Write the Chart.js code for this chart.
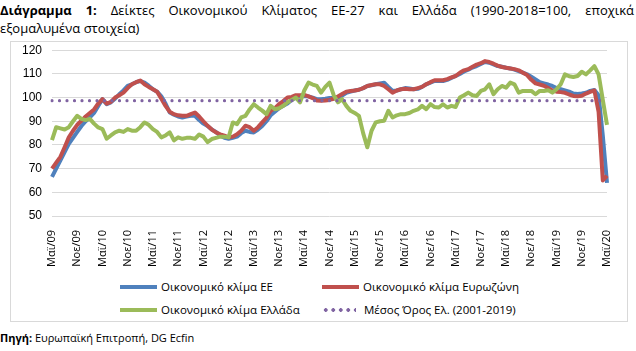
<!DOCTYPE html>
<html>
<head>
<meta charset="utf-8">
<script src="https://cdn.jsdelivr.net/npm/chart.js@4.4.1/dist/chart.umd.min.js"></script>
<style>
  body { margin: 0; width: 636px; height: 351px; background: #fff; position: relative; overflow: hidden; font-family: "Open Sans", "Noto Sans", sans-serif; color: #000; }
  #title { position: absolute; left: 0; top: 1px; width: 634px; font-size: 13px; line-height: 18px; }
  #title .l1 { text-align: justify; text-align-last: justify; white-space: nowrap; }
  #box { position: absolute; left: 10px; top: 41px; width: 618px; height: 281px; border: 1px solid #d9d9d9; box-sizing: border-box; }
  #chart { position: absolute; left: 10px; top: 33px; }
  #legend { position: absolute; left: 0; top: 279px; width: 636px; font-size: 11.5px; }
  .item { position: absolute; white-space: nowrap; display: flex; align-items: center; }
  .sample { display: inline-block; width: 37px; height: 4px; margin-right: 4px; }
  #source { position: absolute; left: 0; top: 330px; font-size: 11px; }
</style>
</head>
<body>
<div id="title">
  <div class="l1"><b>Διάγραμμα 1:</b> Δείκτες Οικονομικού Κλίματος ΕΕ-27 και Ελλάδα (1990-2018=100, εποχικά</div>
  <div>εξομαλυμένα στοιχεία)</div>
</div>
<div id="box"></div>
<canvas id="chart" width="619" height="238"></canvas>
<div id="legend"></div>
<div id="source"><b>Πηγή:</b> Ευρωπαϊκή Επιτροπή, DG Ecfin</div>

<script>
// monthly data, May 2009 .. May 2020
const monthNames = ["Ιαν", "Φεβ", "Μαρ", "Απρ", "Μαϊ", "Ιουν", "Ιουλ", "Αυγ", "Σεπ", "Οκτ", "Νοε", "Δεκ"];
const firstYear = 2009, firstMonth = 4, monthCount = 133;

const seriesNames = ["Οικονομικό κλίμα ΕΕ", "Οικονομικό κλίμα Ευρωζώνη", "Οικονομικό κλίμα Ελλάδα", "Μέσος Όρος Ελ. (2001-2019)"];
const seriesColors = ["#4F81BD", "#C0504D", "#9BBB59", "#8064A2"];

const euValues = [
  66.5, 70, 73.5, 77, 80.5, 83, 85.5, 88, 90, 91.6, 93.5, 96.5,
  99.3, 97.2, 98, 99.5, 101.4, 103, 104.9, 105.6, 106.5, 107, 106.3, 105,
  103.5, 102.5, 100.5, 97.5, 93.7, 92.8, 92, 91.6, 92, 92.3, 92.3, 90.5,
  89, 88, 86.5, 85.5, 84, 83, 82.6, 83, 83.5, 85, 86, 85.5,
  85.3, 86.5, 88, 90, 92.5, 94, 95.5, 96.5, 97.5, 99, 100, 100.5,
  100.7, 100.5, 100, 99.3, 99.3, 99.5, 99.8, 99.8, 100, 100.8, 102, 102.5,
  103, 103.3, 104, 104.9, 105.2, 105.6, 106, 106.3, 104.5, 102.8, 103, 103.5,
  104, 103.8, 103.5, 103.7, 104.5, 105.6, 106.3, 107, 107, 107, 107.5, 108.3,
  109.1, 110, 111, 111.8, 112.7, 113.3, 114.2, 115, 114.7, 114, 113.3, 113,
  112.6, 112.3, 111.8, 111.2, 110.5, 109.8, 108.8, 107.7, 106.5, 106, 105.5, 104.9,
  104, 103.5, 103, 102.5, 101.7, 101.5, 101.7, 102, 102.8, 103.2, 101, 84,
  64
];
const ezValues = [
  70, 72.5, 75, 79, 83.2, 86, 88.5, 90.2, 92, 93.5, 95, 97.5,
  99.3, 97.4, 98.2, 100, 101, 102.1, 104, 105.6, 106.5, 107.2, 105.6, 104.5,
  103.5, 102.5, 99.5, 96.5, 94, 93, 92.5, 92.3, 92.3, 93, 93.7, 92,
  90, 88.1, 86.5, 85.3, 84.5, 83.9, 83.2, 83.5, 84.5, 86, 88.1, 87.5,
  86, 87.5, 89.5, 91.5, 94.4, 95.5, 97.2, 98.5, 100, 100.3, 101, 101,
  101.1, 100.5, 99.8, 98.8, 98.6, 98.8, 99, 99.5, 100.5, 101.5, 102.5, 102.8,
  103, 103.3, 104, 104.9, 105.3, 105.6, 105.6, 104.9, 103.5, 102.1, 103, 103.5,
  103.7, 103.5, 103.5, 104, 104.5, 105.6, 106.5, 107.3, 107.3, 107.3, 107.8, 108.5,
  109.1, 110.5, 111.5, 112, 113, 113.9, 114.5, 115.4, 115, 114.3, 113.5, 112.9,
  112.6, 112.3, 112, 111.5, 110.5, 109.5, 107.5, 106, 105.5, 105, 104, 103,
  102.5, 102.3, 102, 101.3, 100.7, 100.5, 100.8, 101.7, 102.4, 103, 94, 65,
  67
];
const grValues = [
  82, 87.5, 87, 86.5, 87.5, 90, 92.3, 91, 90.5, 91, 89, 87.4,
  86.7, 82.6, 84, 85.3, 86, 85.5, 86.7, 86, 86, 87.5, 89.5, 88.5,
  86.7, 85.5, 83.2, 84, 85.3, 81.9, 83.2, 82.6, 83, 83, 82.6, 84.4,
  83.5, 81.2, 82.5, 83, 83.5, 83.5, 83.2, 89.5, 88.8, 91.6, 92.3, 95,
  97.2, 95.8, 94.5, 93, 96.5, 95.1, 95.5, 96.5, 98, 99, 100, 98,
  103, 106.3, 105.5, 104.9, 102.1, 104.5, 106.3, 101, 98, 99.3, 96.5, 94.4,
  93.5, 92.3, 85, 79, 86, 89.5, 90, 90.2, 94.4, 91.6, 92.5, 93,
  93, 93.5, 94.4, 95, 96.5, 95.1, 97.2, 96, 95.8, 97.2, 95.8, 96.5,
  96, 100, 101, 102.1, 101, 100.7, 102.8, 103.5, 105.6, 101.4, 103.5, 104.9,
  104.2, 106.3, 105.6, 102.1, 102.8, 102.8, 102.8, 101.4, 102.8, 102.8, 103.1, 102.1,
  103.5, 105.6, 109.8, 109, 108.7, 109.1, 110.9, 109.8, 111.5, 113.3, 109.8, 99,
  88.5
];
const grAverage = 98.7;

const yMin = 50, yMax = 120, yStep = 10;

const labels = [];
for (let i = 0; i < monthCount; i++) {
  const m = (firstMonth + i) % 12;
  const y = firstYear + Math.floor((firstMonth + i) / 12);
  labels.push(monthNames[m] + "/" + String(y).slice(2));
}
const avgValues = labels.map(() => grAverage);

const tickFont = { family: "'Open Sans', 'Noto Sans', sans-serif", size: 11 };

new Chart(document.getElementById("chart"), {
  type: "line",
  data: {
    labels,
    datasets: [
      { label: seriesNames[0], data: euValues, borderColor: seriesColors[0], borderWidth: 4, order: 3 },
      { label: seriesNames[1], data: ezValues, borderColor: seriesColors[1], borderWidth: 4, order: 2 },
      { label: seriesNames[2], data: grValues, borderColor: seriesColors[2], borderWidth: 4, order: 1 },
      { label: seriesNames[3], data: avgValues, borderColor: seriesColors[3], borderWidth: 3.2,
        borderDash: [0, 7.5], borderCapStyle: "round", order: 0 }
    ]
  },
  options: {
    responsive: false,
    animation: false,
    elements: { point: { radius: 0 }, line: { tension: 0, borderJoinStyle: "round" } },
    layout: { padding: { top: 1, right: 22, left: 0, bottom: 0 } },
    plugins: { legend: { display: false }, tooltip: { enabled: false } },
    scales: {
      x: {
        grid: { display: false },
        border: { display: false },
        ticks: {
          autoSkip: false, maxRotation: 90, minRotation: 90, padding: 6,
          color: "#000", font: tickFont,
          callback: function (v, i) { return i % 6 === 0 ? this.getLabelForValue(v) : null; }
        },
        afterFit(s) { s.height = 55; }
      },
      y: {
        min: yMin, max: yMax,
        grid: { color: "#d9d9d9", lineWidth: 1, drawTicks: false },
        border: { display: false },
        ticks: { stepSize: yStep, padding: 10, color: "#000", font: { family: "'Liberation Sans', sans-serif", size: 12 } },
        afterFit(s) { s.width = 42; }
      }
    }
  }
});

// legend, 2 x 2 grid
const legend = document.getElementById("legend");
const legendPos = [[120, 0], [322, 0], [120, 23], [322, 23]];
seriesNames.forEach((name, i) => {
  const item = document.createElement("div");
  item.className = "item";
  item.style.left = legendPos[i][0] + "px";
  item.style.top = legendPos[i][1] + "px";
  const sample = document.createElement("span");
  sample.className = "sample";
  if (i === 3) {
    sample.style.background = `radial-gradient(circle, ${seriesColors[i]} 1.6px, transparent 2.1px) 0 0 / 7.5px 4px repeat-x`;
    sample.style.width = "34px";
    sample.style.marginRight = "8px";
  } else {
    sample.style.background = seriesColors[i];
  }
  item.appendChild(sample);
  item.appendChild(document.createTextNode(name));
  legend.appendChild(item);
});
</script>
</body>
</html>
